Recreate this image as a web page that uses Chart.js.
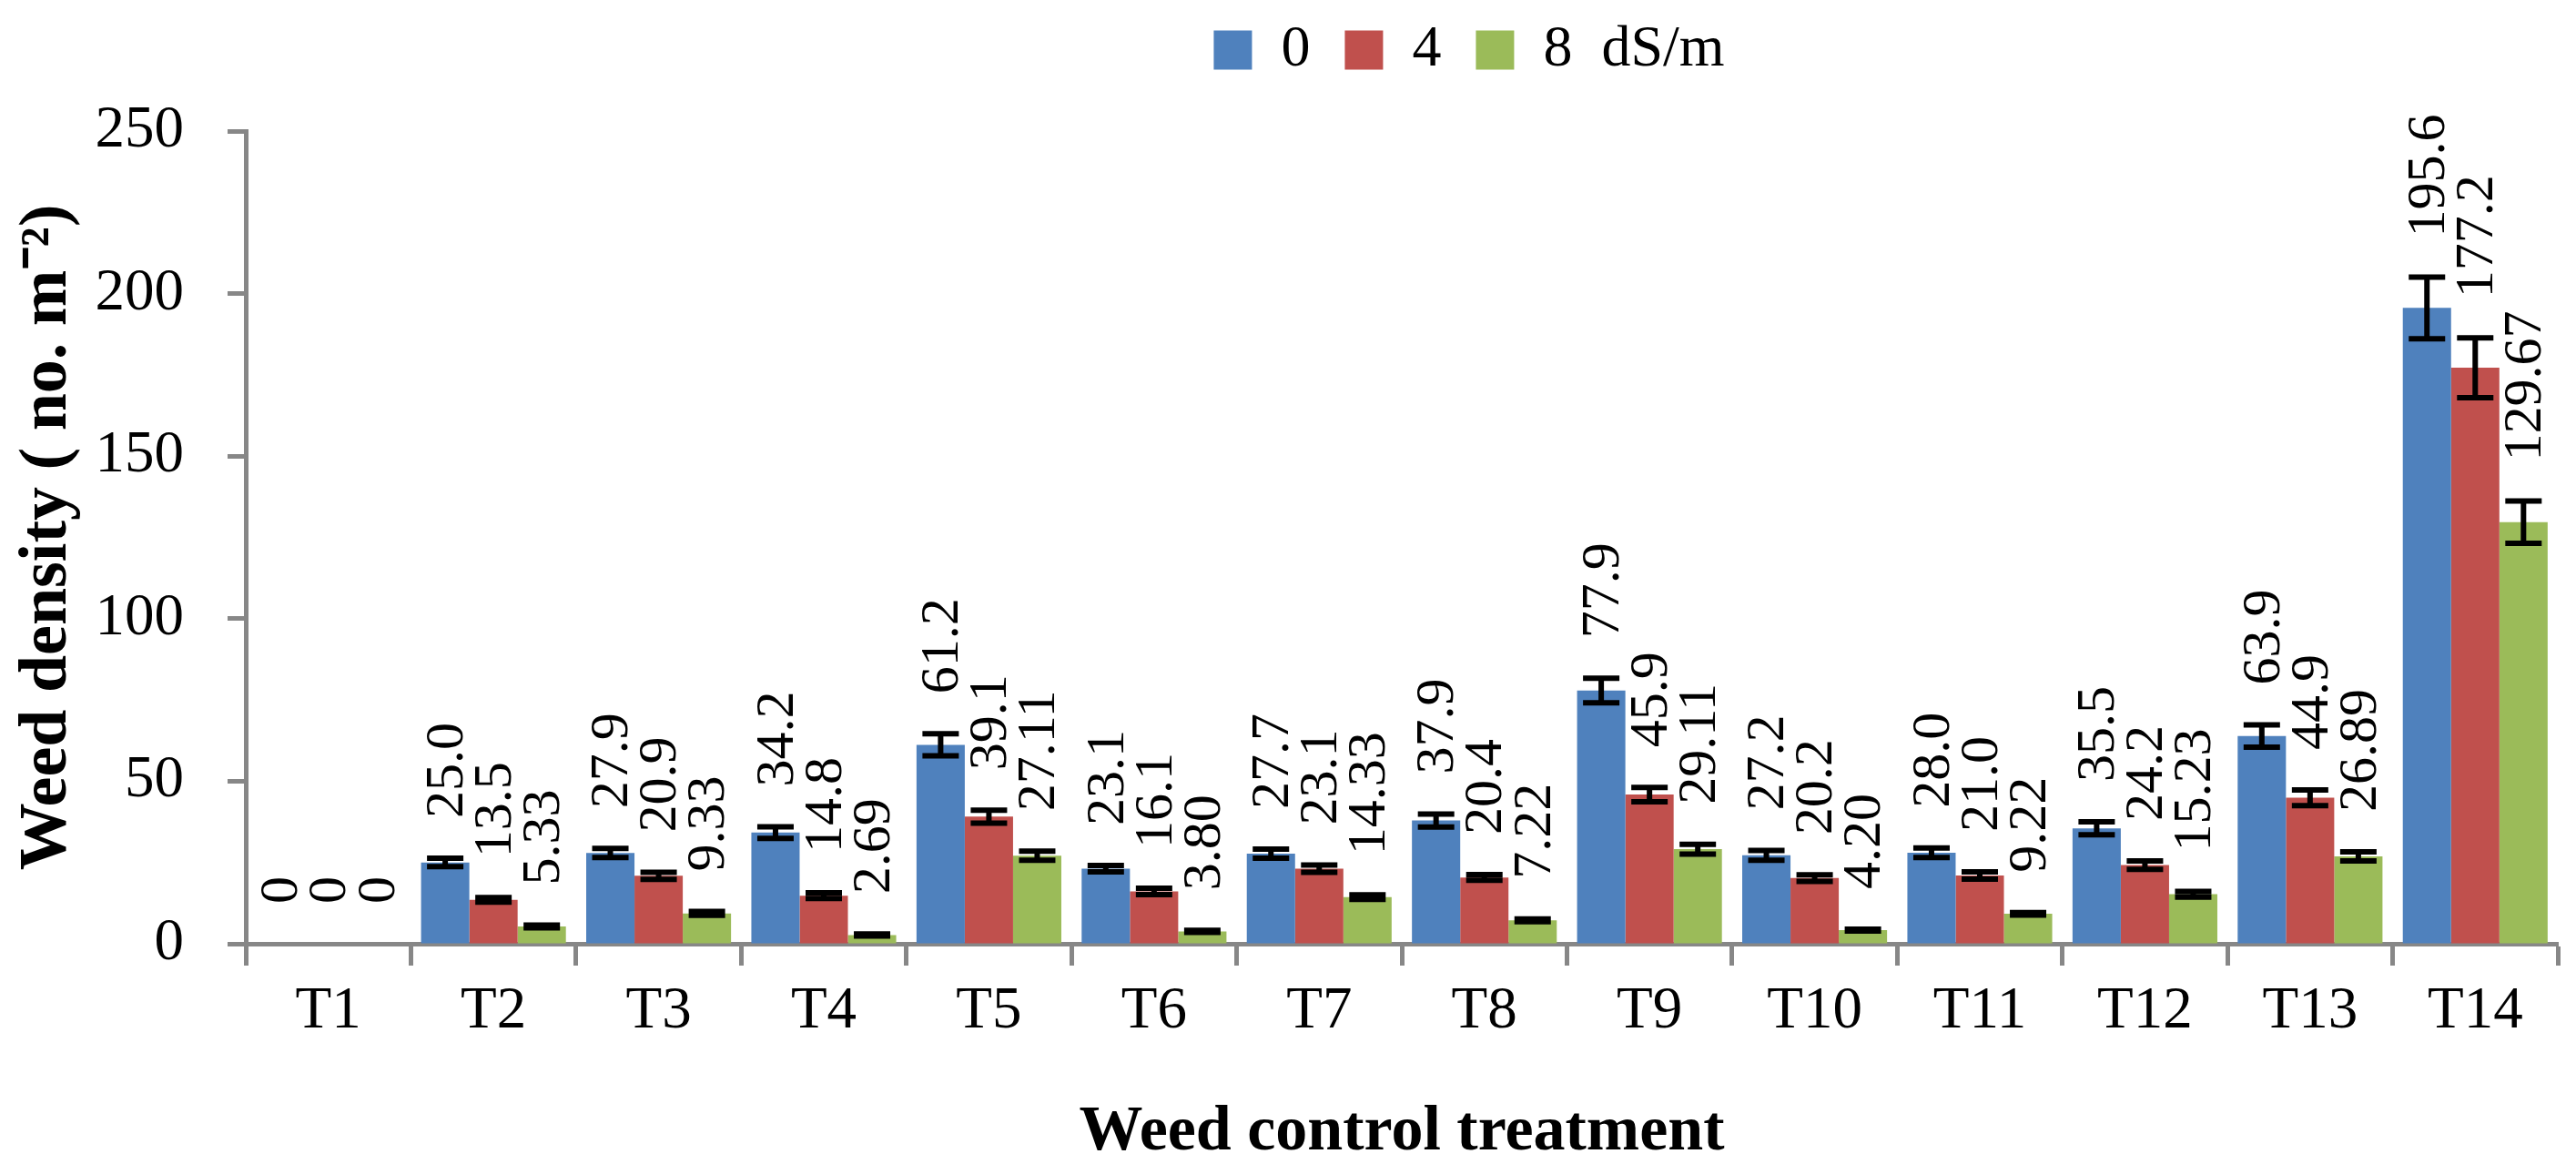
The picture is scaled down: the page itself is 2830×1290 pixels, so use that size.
<!DOCTYPE html>
<html>
<head>
<meta charset="utf-8">
<script src="https://cdn.jsdelivr.net/npm/chart.js@4.4.1/dist/chart.umd.min.js"></script>
<style>
  html, body { margin: 0; padding: 0; background: #ffffff; }
  #wrap { width: 2830px; height: 1290px; }
</style>
</head>
<body>
<div id="wrap"><canvas id="myChartWeed" width="2830" height="1290"></canvas></div>
<script>
// treatments and salinity levels
const tratamentos = ['T1', 'T2', 'T3', 'T4', 'T5', 'T6', 'T7', 'T8', 'T9', 'T10', 'T11', 'T12', 'T13', 'T14'];
const niveis = ['0', '4', '8  dS/m'];

// weed density (no. m-2) per salinity level
const dens0 = [0, 25.0, 27.9, 34.2, 61.2, 23.1, 27.7, 37.9, 77.9, 27.2, 28.0, 35.5, 63.9, 195.6];
const dens4 = [0, 13.5, 20.9, 14.8, 39.1, 16.1, 23.1, 20.4, 45.9, 20.2, 21.0, 24.2, 44.9, 177.2];
const dens8 = [0, 5.33, 9.33, 2.69, 27.11, 3.80, 14.33, 7.22, 29.11, 4.20, 9.22, 15.23, 26.89, 129.67];

// value labels as printed on the bars
const rotulo0 = ['0', '25.0', '27.9', '34.2', '61.2', '23.1', '27.7', '37.9', '77.9', '27.2', '28.0', '35.5', '63.9', '195.6'];
const rotulo4 = ['0', '13.5', '20.9', '14.8', '39.1', '16.1', '23.1', '20.4', '45.9', '20.2', '21.0', '24.2', '44.9', '177.2'];
const rotulo8 = ['0', '5.33', '9.33', '2.69', '27.11', '3.80', '14.33', '7.22', '29.11', '4.20', '9.22', '15.23', '26.89', '129.67'];

// error bars
const erro0 = [0, 1.3, 1.4, 1.8, 3.4, 1.0, 1.4, 2.0, 3.8, 1.5, 1.5, 2.0, 3.4, 9.5];
const erro4 = [0, 0.7, 1.1, 0.85, 2.0, 1.0, 1.1, 0.85, 2.2, 1.0, 1.1, 1.3, 2.4, 9.2];
const erro8 = [0, 0.4, 0.6, 0.3, 1.4, 0.3, 0.7, 0.4, 1.5, 0.3, 0.4, 0.85, 1.4, 6.5];

const yTicks = [0, 50, 100, 150, 200, 250];

const serif = "'Liberation Serif', 'Times New Roman', serif";
const cinza = '#878787';

const erros = [erro0, erro4, erro8];
const rotulos = [rotulo0, rotulo4, rotulo8];

// error bars + vertical value labels
const barExtras = {
    id: 'barExtras',
    afterDatasetsDraw(chart) {
        const ctx = chart.ctx;
        const yScale = chart.scales.y;
        chart.data.datasets.forEach((ds, i) => {
            const meta = chart.getDatasetMeta(i);
            meta.data.forEach((bar, j) => {
                const v = ds.data[j];
                const e = erros[i][j];
                const yTop = yScale.getPixelForValue(v + e);
                const yBot = yScale.getPixelForValue(v - e);
                if (e > 0) {
                    ctx.save();
                    ctx.strokeStyle = '#000000';
                    ctx.lineWidth = 6;
                    ctx.beginPath();
                    ctx.moveTo(bar.x, yTop);
                    ctx.lineTo(bar.x, yBot);
                    ctx.moveTo(bar.x - 20, yTop);
                    ctx.lineTo(bar.x + 20, yTop);
                    ctx.moveTo(bar.x - 20, yBot);
                    ctx.lineTo(bar.x + 20, yBot);
                    ctx.stroke();
                    ctx.restore();
                }
                ctx.save();
                ctx.translate(bar.x + 3, yTop - 44);
                ctx.rotate(-Math.PI / 2);
                ctx.font = '60px ' + serif;
                ctx.fillStyle = '#000000';
                ctx.textAlign = 'left';
                ctx.textBaseline = 'middle';
                ctx.fillText(rotulos[i][j], 0, 0);
                ctx.restore();
            });
        });
    }
};

// move the legend to where it sits in the figure
const legendShift = {
    id: 'legendShift',
    afterLayout(chart) {
        const lg = chart.legend;
        lg.left += 205;
        lg.right += 205;
        lg.top -= 47;
        lg.bottom -= 47;
    }
};

var ctxWeed = document.getElementById('myChartWeed').getContext('2d');
myChartWeed = new Chart(ctxWeed, {
    type: 'bar',
    data: {
        labels: tratamentos,
        datasets: [
            { label: niveis[0], data: dens0, backgroundColor: '#4F81BD', borderWidth: 0 },
            { label: niveis[1], data: dens4, backgroundColor: '#C0504D', borderWidth: 0 },
            { label: niveis[2], data: dens8, backgroundColor: '#9BBB59', borderWidth: 0 }
        ]
    },
    options: {
        responsive: false,
        animation: false,
        devicePixelRatio: 1,
        layout: { padding: { top: 32, left: 8, right: 20, bottom: 3 } },
        datasets: {
            bar: { categoryPercentage: 0.877, barPercentage: 1.0 }
        },
        plugins: {
            tooltip: { enabled: false },
            legend: {
                position: 'top',
                labels: {
                    boxWidth: 42,
                    boxHeight: 43,
                    padding: 38,
                    color: '#000000',
                    font: { family: serif, size: 64 }
                }
            }
        },
        scales: {
            x: {
                offset: true,
                border: { display: true, color: cinza, width: 5 },
                grid: {
                    offset: true,
                    drawOnChartArea: false,
                    drawTicks: true,
                    tickLength: 24,
                    tickWidth: 5,
                    tickColor: cinza
                },
                ticks: {
                    color: '#000000',
                    font: { family: serif, size: 65 },
                    padding: 12,
                    autoSkip: false,
                    maxRotation: 0
                },
                title: {
                    display: true,
                    text: 'Weed control treatment',
                    color: '#000000',
                    font: { family: serif, size: 70, weight: 'bold' },
                    padding: { top: 40, bottom: 0 }
                }
            },
            y: {
                min: yTicks[0],
                max: yTicks[yTicks.length - 1],
                afterBuildTicks: (axis) => { axis.ticks = yTicks.map(v => ({ value: v })); },
                afterFit: (axis) => { axis.width = 262; },
                border: { display: true, color: cinza, width: 5 },
                grid: {
                    drawOnChartArea: false,
                    drawTicks: true,
                    tickLength: 20,
                    tickWidth: 5,
                    tickColor: cinza
                },
                ticks: {
                    color: '#000000',
                    font: { family: serif, size: 65 },
                    padding: 48
                },
                title: {
                    display: true,
                    text: 'Weed density ( no. m\u207B\u00B2)',
                    color: '#000000',
                    font: { family: serif, size: 74, weight: 'bold' },
                    padding: { top: 0, bottom: 10 }
                }
            }
        }
    },
    plugins: [barExtras, legendShift]
});
</script>
</body>
</html>
